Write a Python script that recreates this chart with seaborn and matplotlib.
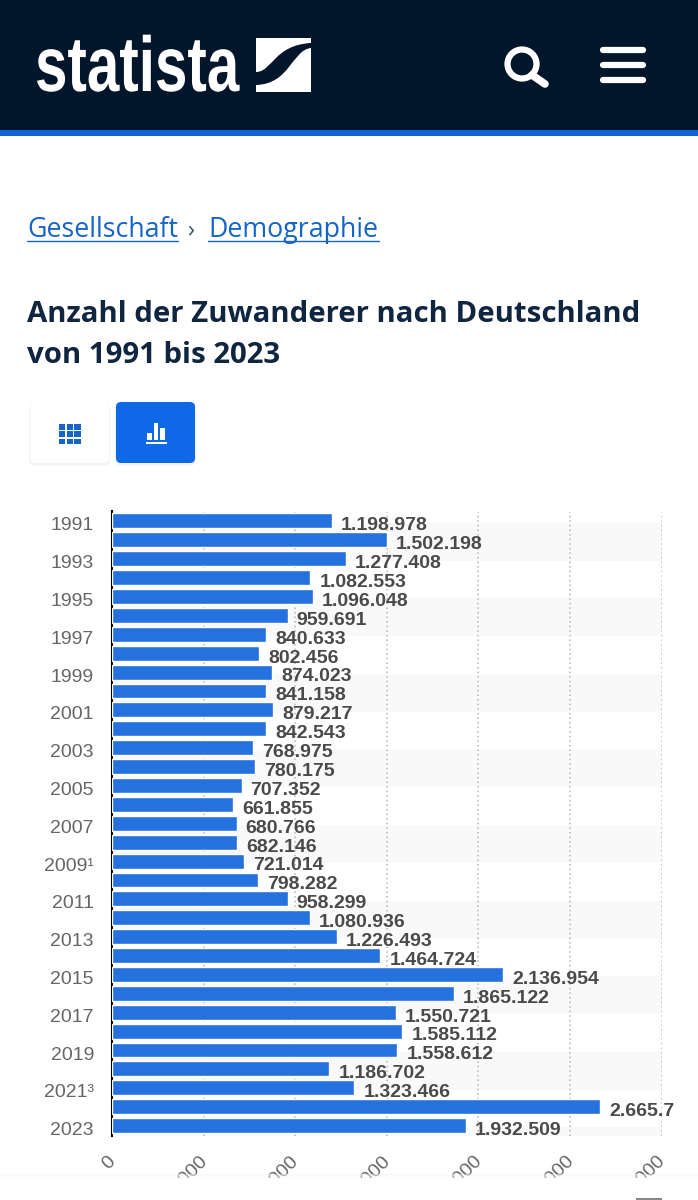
import numpy as np
import pandas as pd
import matplotlib
matplotlib.use("Agg")
import matplotlib.pyplot as plt
import seaborn as sns
from matplotlib.patches import Rectangle, FancyBboxPatch, PathPatch, Circle
from matplotlib.path import Path
from matplotlib.patheffects import AbstractPathEffect
from matplotlib.transforms import Affine2D, ScaledTranslation

years = ["1991","1992","1993","1994","1995","1996","1997","1998","1999","2000","2001","2002",
         "2003","2004","2005","2006","2007","2008","2009¹","2010","2011","2012","2013","2014",
         "2015","2016","2017","2018","2019","2020","2021³","2022","2023"]
values = [1198978,1502198,1277408,1082553,1096048,959691,840633,802456,874023,841158,879217,842543,
          768975,780175,707352,661855,680766,682146,721014,798282,958299,1080936,1226493,1464724,
          2136954,1865122,1550721,1585112,1558612,1186702,1323466,2665772,1932509]
value_labels = ["1.198.978","1.502.198","1.277.408","1.082.553","1.096.048","959.691","840.633","802.456",
                "874.023","841.158","879.217","842.543","768.975","780.175","707.352","661.855","680.766",
                "682.146","721.014","798.282","958.299","1.080.936","1.226.493","1.464.724","2.136.954",
                "1.865.122","1.550.721","1.585.112","1.558.612","1.186.702","1.323.466","2.665.7","1.932.509"]
x_ticks = [0,500000,1000000,1500000,2000000,2500000,3000000]
x_tick_labels = ["0","500.000","1.000.000","1.500.000","2.000.000","2.500.000","3.000.000"]

W, H = 698, 1200
sns.set_theme(style="white")
plt.rcParams["font.family"] = ["Liberation Sans", "DejaVu Sans"]
fig = plt.figure(figsize=(W/100, H/100), dpi=100, facecolor="white")

def rect(l, t, r, b):
    return [l/W, 1-b/H, (r-l)/W, (b-t)/H]

ax = fig.add_axes(rect(112, 511.5, 661.5, 1136), zorder=1)
df = pd.DataFrame({"Jahr": years, "Zuwanderer": values})
sns.barplot(data=df, y="Jahr", x="Zuwanderer", orient="h", color="#2571DE", saturation=1,
            width=0.79, ax=ax, zorder=3)
ax.set_xlim(0, 3000000)
ax.set_ylim(32.55, -0.5)
ax.set_xlabel(""); ax.set_ylabel("")
for start in range(0, 33, 4):
    ax.axhspan(start+0.1, min(start+2.1, 32.55), color="#F9F9F9", lw=0, zorder=0)
ax.set_xticks(x_ticks)
ax.set_xticklabels(x_tick_labels, rotation=45, ha="right", rotation_mode="anchor",
                   fontsize=14, color="#666666")
ax.grid(axis="x", color="#B5B5B5", lw=1.1, ls=(0, (1, 2)), zorder=1)
ax.set_axisbelow(True)
ax.set_yticks(range(0, 33, 2))
ax.set_yticklabels(years[::2], fontsize=14, color="#666666")
ax.tick_params(axis="y", length=0, pad=13)
ax.tick_params(axis="x", length=0, pad=12)
for lab in ax.get_yticklabels():
    lab.set_verticalalignment("center")
    lab.set_transform(lab.get_transform() + ScaledTranslation(0, -5/100, fig.dpi_scale_trans))
for lab in ax.get_xticklabels():
    lab.set_transform(lab.get_transform() + ScaledTranslation(-5/100, 0, fig.dpi_scale_trans))
for s in ["top", "right", "bottom"]:
    ax.spines[s].set_visible(False)
ax.spines["left"].set_color("black"); ax.spines["left"].set_linewidth(1.5)
for i, (v, lab) in enumerate(zip(values, value_labels)):
    ax.annotate(lab, xy=(v, i), xytext=(6.5, -3.5), textcoords="offset points", va="center", ha="left",
                fontsize=14, fontweight="bold", color="#4A4A4A", zorder=4, annotation_clip=False)

# page chrome in pixel coordinates
ov = fig.add_axes([0, 0, 1, 1], zorder=2)
ov.set_xlim(0, W); ov.set_ylim(H, 0); ov.axis("off"); ov.patch.set_alpha(0)
ov.add_patch(Rectangle((0, 0), W, 130, color="#01152B", lw=0))
ov.add_patch(Rectangle((0, 130), W, 5.5, color="#0F62D8", lw=0))

class Squeeze(AbstractPathEffect):
    """Narrow a text horizontally around a pixel x position, as the condensed logo face does."""
    def __init__(self, x0, sx):
        super().__init__()
        self.x0, self.sx = x0, sx
    def draw_path(self, renderer, gc, tpath, affine, rgbFace=None):
        aff = affine + Affine2D().translate(-self.x0, 0).scale(self.sx, 1).translate(self.x0, 0)
        renderer.draw_path(gc, tpath, aff, rgbFace)

ov.text(35, 91, "statista", fontweight="bold", fontsize=56, color="white", va="baseline", ha="left",
        path_effects=[Squeeze(35, 0.75)])
# logo mark
ov.add_patch(Rectangle((256, 38), 55, 54, color="white", lw=0))
verts = [(256,72),(272,72),(274,45),(311,43),(311,48),(292,50),(290,84),(256,85),(256,72)]
codes = [Path.MOVETO,Path.CURVE4,Path.CURVE4,Path.CURVE4,Path.LINETO,Path.CURVE4,Path.CURVE4,Path.CURVE4,Path.CLOSEPOLY]
ov.add_patch(PathPatch(Path(verts, codes), fc="#01152B", ec="none"))
# search and menu icons
ov.add_patch(Circle((522, 64), 14.5, fc="none", ec="white", lw=4.5))
ov.plot([532, 545], [75, 84], color="white", lw=5.5, solid_capstyle="round")
for y in (50, 65, 80):
    ov.plot([603, 643], [y, y], color="white", lw=4.5, solid_capstyle="round")
# breadcrumb
link = "#1565C9"
for x, s, x2 in ((27, "Gesellschaft", 178), (208, "Demographie", 379)):
    ov.text(x, 237, s, family="Open Sans", fontsize=19.3, color=link, va="baseline", ha="left")
    ov.plot([x, x2], [240.5, 240.5], color=link, lw=1)
ov.text(191, 236, "›", family="Open Sans", fontsize=17, color="#44566C", va="baseline", ha="center")
# headline
for y, s in ((322, "Anzahl der Zuwanderer nach Deutschland"), (363, "von 1991 bis 2023")):
    ov.text(27, y, s, family="Open Sans", fontweight="bold", fontsize=21.2, color="#0F2540", va="baseline", ha="left")
# buttons
for l, fc in ((30, "white"), (116, "#0F69E6")):
    ov.add_patch(FancyBboxPatch((l-1, 402), 81, 63.5, boxstyle="round,pad=0,rounding_size=6", lw=0, fc="#F3F3F3", zorder=1))
    ov.add_patch(FancyBboxPatch((l, 402), 79, 61, boxstyle="round,pad=0,rounding_size=5", lw=0, fc=fc, zorder=2))
for row in range(3):
    for col in range(3):
        ov.add_patch(Rectangle((59+col*7.7, 424+row*7.3), 6.4, 5.8, color="#1565C9", lw=0, zorder=3))
for l, t, w in ((147, 433, 4.5), (153.5, 423, 4.5), (160, 428, 4.5)):
    ov.add_patch(Rectangle((l, t), w, 439.5-t, color="white", lw=0, zorder=3))
ov.add_patch(Rectangle((145.5, 441.5), 21, 2, color="white", lw=0, zorder=3))
# footer hiding the lower part of the axis labels
ov.add_patch(Rectangle((0, 1178), W, 22, color="white", lw=0, zorder=5))
for k, g in enumerate(np.linspace(0.97, 0.995, 5)):
    ov.add_patch(Rectangle((0, 1174+k), W, 1, color=str(g), lw=0, alpha=0.5, zorder=5))
ov.add_patch(Rectangle((636, 1198), 26, 2, color="#888888", lw=0, zorder=6))

fig.savefig("out.png", dpi=100)
